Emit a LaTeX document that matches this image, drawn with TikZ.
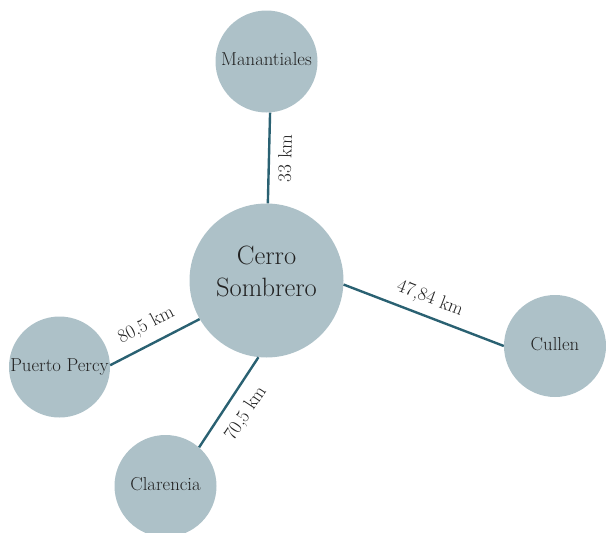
\documentclass[tikz,border=0pt]{standalone}
\usepackage{fontspec}
\definecolor{cfill}{HTML}{ADC1C8}
\definecolor{cline}{HTML}{2A6172}
\definecolor{ctext}{HTML}{222222}
\newcommand{\txtfont}[1]{\fontsize{#1}{#1}\selectfont\addfontfeatures{FakeBold=0.5}}
\begin{document}
\begin{tikzpicture}[x=1pt,y=-1pt,
  town/.style={circle,fill=cfill,draw=none,inner sep=0pt,text=ctext,font=\txtfont{18.7},text height=12.8pt,text depth=4pt},
  road/.style={draw=cline,line width=2.4pt},
  dist/.style={midway,sloped,text=ctext,inner sep=2pt,font=\txtfont{19}}]
\useasboundingbox (0,0) rectangle (606,533);
\node[town,minimum size=102pt] (man) at (266.5,61.5) {Manantiales};
\node[town,minimum size=154pt] (cs) at (266.5,280.5) {};
\node[align=center,text=ctext,inner sep=0pt,font={\fontsize{26.5}{32}\selectfont\addfontfeatures{FakeBold=0.5}}] (cstext) at (266.5,271.5) {Cerro\\Sombrero};
\node[town,minimum size=102pt] (cul) at (555,346) {Cullen};
\node[town,minimum size=101pt] (pp) at (59.5,367) {Puerto Percy};
\node[town,minimum size=102pt] (cla) at (165.5,486) {Clarencia};
\draw[road] (cs.89) -- node[dist,below=6pt] {33 km} (man.274);
\draw[road] (cs.-3) -- node[dist,above=6pt] {47,84 km} (cul.180);
\draw[road] (pp.2) -- node[dist,above=7pt] {80,5 km} (cs.210);
\draw[road] (cla.49) -- node[dist,below=9pt] {70,5 km} (cs.264);
\end{tikzpicture}
\end{document}
